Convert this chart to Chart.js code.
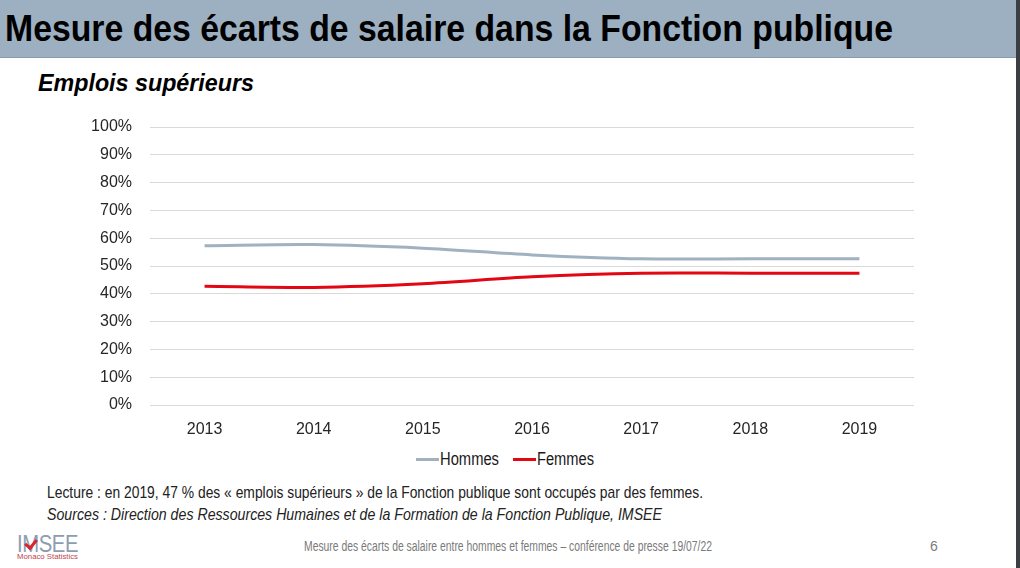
<!DOCTYPE html>
<html>
<head>
<meta charset="utf-8">
<script src="https://cdn.jsdelivr.net/npm/chart.js@4.4.1/dist/chart.umd.min.js"></script>
<style>
  html, body { margin: 0; padding: 0; }
  body { width: 1020px; height: 568px; position: relative; overflow: hidden; background: #fff;
         font-family: "Liberation Sans", Arial, sans-serif; }
  #header { position: absolute; left: 0; top: 0; width: 1016px; height: 57px; background: #9cb0c2;
            border-bottom: 1px solid #8b9cad; }
  #rightbar { position: absolute; left: 1016px; top: 0; width: 4px; height: 568px; background: #3b3e43; }
  .t { position: absolute; white-space: nowrap; line-height: 1; transform-origin: 0 50%; }
  #title { left: 5px; top: 10px; font-size: 37px; font-weight: bold; color: #000; }
  #subtitle { left: 38px; top: 72px; font-size: 23px; font-weight: bold; font-style: italic; color: #000; }
  #lecture { left: 47px; top: 484px; font-size: 17px; color: #222; font-family: "Liberation Sans Narrow", "Liberation Sans", Arial, sans-serif; }
  #sources { left: 47px; top: 506px; font-size: 17px; font-style: italic; color: #222; font-family: "Liberation Sans Narrow", "Liberation Sans", Arial, sans-serif; }
  #footer { left: 304px; top: 539px; font-size: 14px; color: #7a7a7a; font-family: "Liberation Sans Narrow", "Liberation Sans", Arial, sans-serif; }
  #page { left: 930px; top: 539px; font-size: 14px; color: #7a7a7a; font-family: "Liberation Sans Narrow", "Liberation Sans", Arial, sans-serif; }
  #logo1 { left: 17px; top: 533px; font-size: 23px; color: #8c9db2; letter-spacing: -0.5px; }
  #chk { position: absolute; left: 27px; top: 537px; width: 5px; height: 9px;
         border-right: 3px solid #d7262e; border-bottom: 3px solid #d7262e; transform: rotate(40deg); }
  #logo2 { left: 17px; top: 553px; font-size: 8px; color: #c2454c; }
  #legend { position: absolute; left: 0; top: 449px; height: 20px; }
  .leg { position: absolute; top: 0; height: 20px; }
  .leg .ln { position: absolute; top: 9px; height: 3px; width: 23px; left: 0; }
  .leg .lt { position: absolute; left: 24px; top: 1px; font-size: 18px; line-height: 1; color: #1a1a1a; white-space: nowrap;
             font-family: "Liberation Sans Narrow", "Liberation Sans", Arial, sans-serif; transform-origin: 0 50%; }
  canvas#c { position: absolute; left: 0; top: 0; }
</style>
</head>
<body>
<div id="header"></div>
<div id="rightbar"></div>
<div class="t" id="title">Mesure des écarts de salaire dans la Fonction publique</div>
<div class="t" id="subtitle">Emplois supérieurs</div>
<div class="t" id="lecture">Lecture : en 2019, 47 % des « emplois supérieurs » de la Fonction publique sont occupés par des femmes.</div>
<div class="t" id="sources">Sources : Direction des Ressources Humaines et de la Formation de la Fonction Publique, IMSEE</div>
<div class="t" id="footer">Mesure des écarts de salaire entre hommes et femmes – conférence de presse 19/07/22</div>
<div class="t" id="page">6</div>
<div class="t" id="logo1">IMSEE</div>
<div id="chk"></div>
<div class="t" id="logo2">Monaco Statistics</div>
<div id="legend"></div>
<canvas id="c" width="1020" height="568"></canvas>
<script>
// ---- data ----
const years = ['2013', '2014', '2015', '2016', '2017', '2018', '2019'];
const hommes = [57.3, 57.7, 56.4, 54.0, 52.6, 52.6, 52.6];
const femmes = [42.7, 42.3, 43.6, 46.1, 47.4, 47.4, 47.4];
const seriesNames = ['Hommes', 'Femmes'];
const seriesColors = ['#a0b1c0', '#e30613'];
const yTicks = [0, 10, 20, 30, 40, 50, 60, 70, 80, 90, 100];

// fit text widths to the reference
function fit(id, w) {
  const el = document.getElementById(id);
  const r = el.getBoundingClientRect().width;
  el.style.transform = 'scaleX(' + (w / r) + ')';
}
fit('title', 888);
fit('subtitle', 216);
fit('lecture', 656);
fit('sources', 615);
fit('footer', 408);
fit('logo1', 61);
fit('logo2', 61);

const ctx = document.getElementById('c').getContext('2d');
const chart = new Chart(ctx, {
  type: 'line',
  data: {
    labels: years,
    datasets: [
      { label: seriesNames[0], data: hommes, borderColor: seriesColors[0], backgroundColor: seriesColors[0],
        borderWidth: 3, pointRadius: 0, tension: 0.3, fill: false, borderCapStyle: 'butt' },
      { label: seriesNames[1], data: femmes, borderColor: seriesColors[1], backgroundColor: seriesColors[1],
        borderWidth: 3, pointRadius: 0, tension: 0.3, fill: false, borderCapStyle: 'butt' }
    ]
  },
  options: {
    responsive: false,
    animation: false,
    devicePixelRatio: 1,
    layout: { padding: { left: 80, right: 106, top: 127, bottom: 123 } },
    plugins: { legend: { display: false }, tooltip: { enabled: false } },
    scales: {
      x: {
        offset: true,
        grid: { display: false, drawTicks: false },
        border: { display: false },
        ticks: { color: '#262626', font: { family: 'Liberation Sans', size: 16 }, padding: 15 },
        afterFit: s => { s.height = 40; }
      },
      y: {
        min: 0, max: 100,
        afterBuildTicks: s => { s.ticks = yTicks.map(v => ({ value: v })); },
        grid: { color: '#d9d9d9', lineWidth: 1, drawTicks: false },
        border: { display: false },
        ticks: { color: '#262626', font: { family: 'Liberation Sans', size: 16 }, padding: 18,
                 callback: v => v + '%' },
        afterFit: s => { s.width = 70; }
      }
    }
  }
});

// legend from the chart datasets
const legend = document.getElementById('legend');
const legX = [416, 513];
chart.data.datasets.forEach((ds, i) => {
  const d = document.createElement('div');
  d.className = 'leg';
  d.style.left = legX[i] + 'px';
  d.innerHTML = '<div class="ln" style="background:' + ds.borderColor + '"></div><div class="lt">' + ds.label + '</div>';
  legend.appendChild(d);
  const lt = d.querySelector('.lt');
  const w = lt.getBoundingClientRect().width;
  lt.style.transform = 'scaleX(' + ((i === 0 ? 59 : 57) / w) + ')';
});
</script>
</body>
</html>
